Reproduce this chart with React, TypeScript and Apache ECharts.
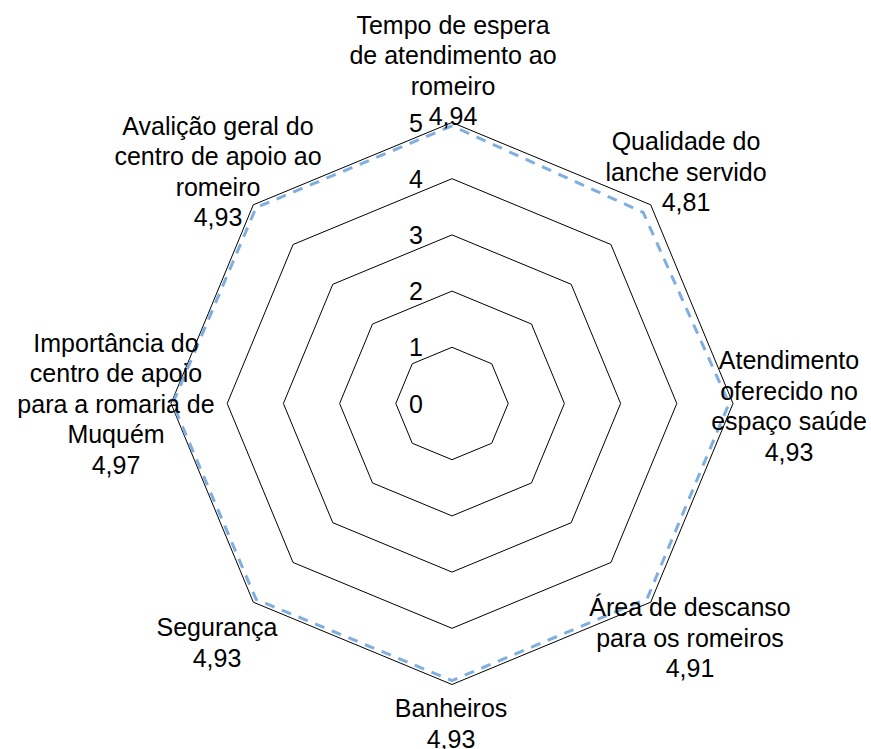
import React, { useEffect, useRef } from "react";
import * as echarts from "echarts";

// Categories in clockwise order starting from the top
const categories: string[][] = [
  ["Tempo de espera", "de atendimento ao", "romeiro"],
  ["Qualidade do", "lanche servido"],
  ["Atendimento", "oferecido no", "espaço saúde"],
  ["Área de descanso", "para os romeiros"],
  ["Banheiros"],
  ["Segurança"],
  ["Importância do", "centro de apoio", "para a romaria de", "Muquém"],
  ["Avalição geral do", "centro de apoio ao", "romeiro"],
];
const values: number[] = [4.94, 4.81, 4.93, 4.91, 4.93, 4.93, 4.97, 4.93];
const valueLabels: string[] = ["4,94", "4,81", "4,93", "4,91", "4,93", "4,93", "4,97", "4,93"];
const axisMax = 5;
const tickInterval = 1;

// layout
const CX = 452;
const CY = 403.5;
const R = 281;
const FONT = "25px 'Liberation Sans', Arial, sans-serif";
const LINE_H = 30.5;
// label block centres, relative to the radar centre
const labelOffsets: [number, number][] = [
  [1, -333],
  [234, -232],
  [337, 2.5],
  [238, 234],
  [-1, 320],
  [-235, 239],
  [-336, 0],
  [-234, -232],
];

export default function App() {
  const ref = useRef<HTMLDivElement>(null);
  useEffect(() => {
    if (!ref.current) return;
    const chart = echarts.init(ref.current, undefined, { renderer: "svg" });
    // ECharts radar goes counter-clockwise; reorder clockwise data
    const order = [0, 7, 6, 5, 4, 3, 2, 1];
    const indicator = order.map((i) => ({ name: categories[i].join(" "), max: axisMax, min: 0 }));
    const data = order.map((i) => values[i]);

    const graphics = categories.map((lines, i) => {
      const text = [...lines, valueLabels[i]].join("\n");
      return {
        type: "text",
        x: CX + labelOffsets[i][0],
        y: CY + labelOffsets[i][1],
        z: 10,
        style: {
          text,
          font: FONT,
          fill: "#000",
          align: "center",
          verticalAlign: "middle",
          textAlign: "center",
          textVerticalAlign: "middle",
          lineHeight: LINE_H,
        },
      };
    });

    chart.setOption({
      animation: false,
      backgroundColor: "#fff",
      radar: {
        center: [CX, CY],
        radius: R,
        startAngle: 90,
        shape: "polygon",
        splitNumber: axisMax / tickInterval,
        indicator,
        axisName: { show: false },
        axisLine: { show: false },
        axisTick: { show: false },
        axisLabel: { show: false },
        splitArea: { show: false },
        splitLine: { lineStyle: { color: "#000", width: 1 } },
      },
      grid: { left: CX, top: CY - R, width: 1, height: R },
      xAxis: { type: "value", show: false },
      yAxis: {
        type: "value",
        min: 0,
        max: axisMax,
        interval: tickInterval,
        axisLine: { show: false },
        axisTick: { show: false },
        splitLine: { show: false },
        axisLabel: {
          margin: 29,
          color: "#000",
          fontSize: 25,
          fontFamily: "'Liberation Sans', Arial, sans-serif",
        },
      },
      series: [
        {
          type: "radar",
          symbol: "none",
          data: [
            {
              value: data,
              lineStyle: { color: "#7FAEE0", width: 3, type: [10, 8] },
            },
          ],
        },
      ],
      graphic: graphics,
    });
    return () => chart.dispose();
  }, []);
  return (
    <div
      ref={ref}
      style={{ position: "fixed", left: 0, top: 0, width: 871, height: 749 }}
    />
  );
}
